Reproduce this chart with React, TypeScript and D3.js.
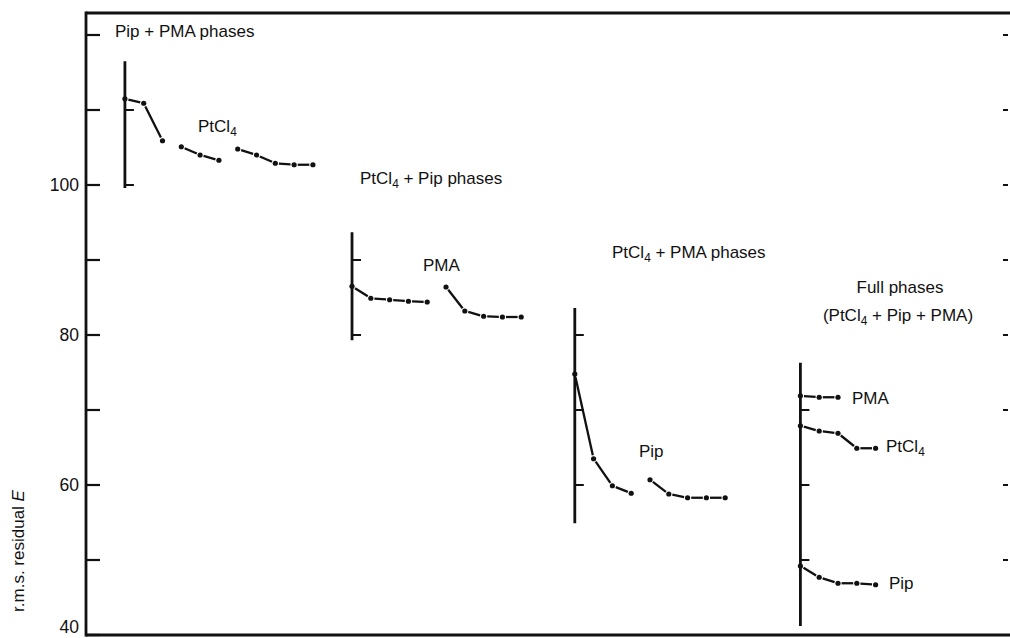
import React from "react";
import * as d3 from "d3";

// ---------- data ----------
const yTickValues = [40, 50, 60, 70, 80, 90, 100, 110, 120];
const yTickLabels = [40, 60, 80, 100];
const yAxisTitle = "r.m.s. residual ";
const yAxisTitleItalic = "E";

const groupTitles = ["Pip + PMA phases", "PtCl4 + Pip phases", "PtCl4 + PMA phases", "Full phases"];
const groupSubTitle = "(PtCl4 + Pip + PMA)";
const groupAxisCycle = [2.07, 14.15, 26.0, 38.0];
const groupAxisExtent: [number, number][] = [
  [99.6, 116.5],
  [79.3, 93.7],
  [54.9, 83.6],
  [41.2, 76.3],
];
const groupAxisTicks = [
  [100, 110],
  [80, 90],
  [60, 70, 80],
  [50, 60, 70],
];

// runs of consecutive refinement cycles (a new run = break in the line)
const g1PtCl4Runs = [
  [111.5, 110.9, 105.9],
  [105.1, 104.0, 103.3],
  [104.8, 104.0, 102.9, 102.7, 102.7],
];
const g2PMARuns = [
  [86.5, 84.9, 84.7, 84.5, 84.4],
  [86.4, 83.2, 82.5, 82.4, 82.4],
];
const g3PipRuns = [
  [74.8, 63.5, 59.9, 58.9],
  [60.7, 58.8, 58.3, 58.3, 58.3],
];
const g4PMARuns = [[71.9, 71.7, 71.7]];
const g4PtCl4Runs = [[67.9, 67.2, 66.9, 64.9, 64.9]];
const g4PipRuns = [[49.2, 47.7, 46.9, 46.9, 46.7]];

// ---------- layout ----------
const W = 1010;
const H = 638;
const FONT = "'Liberation Sans', Arial, Helvetica, sans-serif";
const FS = 17;
const INK = "#111";

const x = d3.scaleLinear().domain([0, 49]).range([86, 86 + 49 * 18.8]);
const y = d3.scaleLinear().domain([40, 100]).range([635, 185]);
const yTop = y.invert(13);

type Pt = { cx: number; cy: number };

function runsToPoints(runs: number[][], startCycle: number): Pt[][] {
  let c = startCycle;
  return runs.map((run) =>
    run.map((v) => {
      const p = { cx: x(c), cy: y(v) };
      c += 1;
      return p;
    })
  );
}

function Series({ runs, start }: { runs: number[][]; start: number }) {
  const pts = runsToPoints(runs, start);
  const gap = 3.6;
  const segs: JSX.Element[] = [];
  const dots: JSX.Element[] = [];
  pts.forEach((run, ri) => {
    run.forEach((p, i) => {
      dots.push(<circle key={`d${ri}-${i}`} cx={p.cx} cy={p.cy} r={2.6} fill={INK} />);
      if (i > 0) {
        const a = run[i - 1];
        const dx = p.cx - a.cx;
        const dy = p.cy - a.cy;
        const len = Math.hypot(dx, dy);
        const ux = dx / len;
        const uy = dy / len;
        segs.push(
          <line
            key={`s${ri}-${i}`}
            x1={a.cx + ux * gap}
            y1={a.cy + uy * gap}
            x2={p.cx - ux * gap}
            y2={p.cy - uy * gap}
            stroke={INK}
            strokeWidth={2.3}
          />
        );
      }
    });
  });
  return (
    <g>
      {segs}
      {dots}
    </g>
  );
}

function Chem({ x: tx, y: ty, text, anchor = "start", size = FS }: { x: number; y: number; text: string; anchor?: string; size?: number }) {
  const parts = text.split(/(PtCl4)/).filter((p) => p.length > 0);
  const nodes: JSX.Element[] = [];
  let shifted = false;
  parts.forEach((p, i) => {
    if (p === "PtCl4") {
      nodes.push(
        <tspan key={`a${i}`} dy={shifted ? -4 : undefined}>
          PtCl
        </tspan>
      );
      nodes.push(
        <tspan key={`b${i}`} fontSize={size * 0.7} dy={4}>
          4
        </tspan>
      );
      shifted = true;
    } else {
      nodes.push(
        <tspan key={`c${i}`} dy={shifted ? -4 : undefined}>
          {p}
        </tspan>
      );
      shifted = false;
    }
  });
  return (
    <text x={tx} y={ty} fontFamily={FONT} fontSize={size} fill={INK} textAnchor={anchor as any}>
      {nodes}
    </text>
  );
}

function SubAxis({ i }: { i: number }) {
  const ax = x(groupAxisCycle[i]);
  const [lo, hi] = groupAxisExtent[i];
  return (
    <g>
      <line x1={ax} x2={ax} y1={y(hi)} y2={y(lo)} stroke={INK} strokeWidth={2.8} />
      {groupAxisTicks[i].map((t) => (
        <line key={t} x1={ax} x2={ax + 9} y1={y(t)} y2={y(t)} stroke={INK} strokeWidth={2} />
      ))}
    </g>
  );
}

export default function App() {
  const x0 = x.range()[0];
  return (
    <svg
      width={W}
      height={H}
      viewBox={`0 0 ${W} ${H}`}
      style={{ position: "absolute", left: 0, top: 0, background: "#fff" }}
    >
      <rect x={0} y={0} width={W} height={H} fill="#fff" />
      {/* frame */}
      <line x1={x0} x2={W} y1={y(yTop)} y2={y(yTop)} stroke={INK} strokeWidth={2.8} />
      <line x1={x0} x2={W} y1={y(40)} y2={y(40)} stroke={INK} strokeWidth={2.8} />
      <line x1={x0} x2={x0} y1={y(yTop) - 1.4} y2={y(40) + 1.4} stroke={INK} strokeWidth={2.8} />
      {/* left ticks */}
      {yTickValues.map((t) => (
        <line key={t} x1={x0} x2={x0 + 14} y1={y(t)} y2={y(t)} stroke={INK} strokeWidth={2.2} />
      ))}
      {/* right ticks */}
      {yTickValues.filter((t) => t > 40).map((t) => (
        <line key={"r" + t} x1={1003} x2={1008} y1={y(t)} y2={y(t)} stroke={INK} strokeWidth={2} />
      ))}
      {yTickLabels.map((t) => (
        <text
          key={"l" + t}
          x={x0 - 7}
          y={t === 40 ? y(t) - 2 : y(t)}
          dy={t === 40 ? 0 : "0.36em"}
          textAnchor="end"
          fontFamily={FONT}
          fontSize={17.5}
          fill={INK}
        >
          {t}
        </text>
      ))}
      <text transform={`translate(24, ${551}) rotate(-90)`} textAnchor="middle" fontFamily={FONT} fontSize={FS} fill={INK}>
        {yAxisTitle}
        <tspan fontStyle="italic">{yAxisTitleItalic}</tspan>
      </text>

      {/* sub-axes */}
      {groupAxisCycle.map((_, i) => (
        <SubAxis key={i} i={i} />
      ))}

      {/* series */}
      <Series runs={g1PtCl4Runs} start={groupAxisCycle[0]} />
      <Series runs={g2PMARuns} start={groupAxisCycle[1]} />
      <Series runs={g3PipRuns} start={groupAxisCycle[2]} />
      <Series runs={g4PMARuns} start={groupAxisCycle[3]} />
      <Series runs={g4PtCl4Runs} start={groupAxisCycle[3]} />
      <Series runs={g4PipRuns} start={groupAxisCycle[3]} />

      {/* group titles */}
      <Chem x={115} y={37} text={groupTitles[0]} />
      <Chem x={360} y={184} text={groupTitles[1]} />
      <Chem x={612} y={258} text={groupTitles[2]} />
      <Chem x={900} y={293} text={groupTitles[3]} anchor="middle" />
      <Chem x={898} y={321} text={groupSubTitle} anchor="middle" />

      {/* series labels */}
      <Chem x={198} y={132} text="PtCl4" />
      <Chem x={423} y={271} text="PMA" />
      <Chem x={639} y={457} text="Pip" />
      <Chem x={852} y={404} text="PMA" />
      <Chem x={886} y={452} text="PtCl4" />
      <Chem x={889} y={589} text="Pip" />
    </svg>
  );
}
